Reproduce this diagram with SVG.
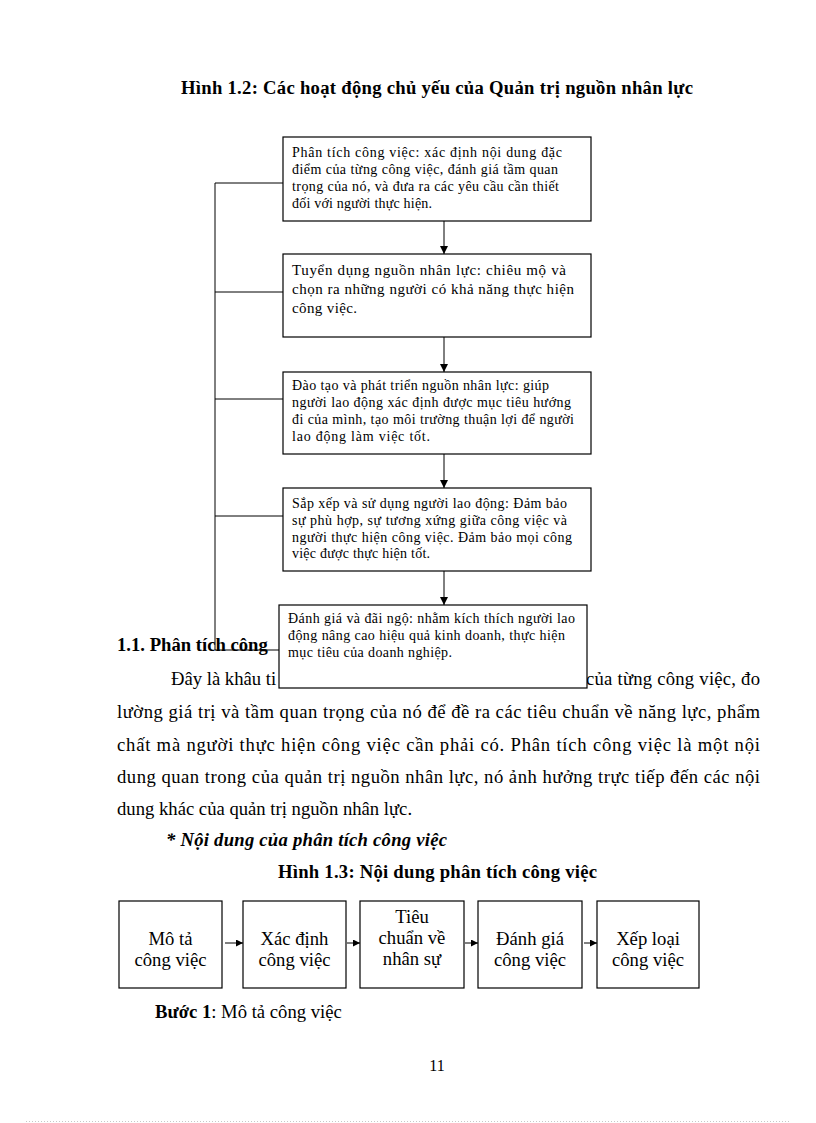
<svg xmlns="http://www.w3.org/2000/svg" width="816" height="1123" viewBox="0 0 816 1123">
<style>
text{font-family:"Liberation Serif","Times New Roman",serif;fill:#000}
.body{font-size:18.67px}
.b{font-weight:bold}
.bi{font-weight:bold;font-style:italic}
.sm{font-size:14px}
.md{font-size:15px}
.box{fill:#fff;stroke:#000;stroke-width:1.2}
.ln{fill:none;stroke:#000;stroke-width:1}
</style>
<defs>
<marker id="ah" viewBox="0 0 8 8" refX="8" refY="4" markerWidth="8" markerHeight="8" markerUnits="userSpaceOnUse" orient="auto">
<path d="M0,0 L8,4 L0,8 z" fill="#000"/>
</marker>
<marker id="ah2" viewBox="0 0 8 8" refX="8" refY="4" markerWidth="7" markerHeight="7" markerUnits="userSpaceOnUse" orient="auto">
<path d="M0,0 L8,4 L0,8 z" fill="#000"/>
</marker>
</defs>
<rect width="816" height="1123" fill="#fff"/>

<g id="page-text">
<text class="body b" x="181" y="94" textLength="512" lengthAdjust="spacing">Hình 1.2: Các hoạt động chủ yếu của Quản trị nguồn nhân lực</text>
<text class="body b" x="117" y="651">1.1. Phân tích công</text>
<text class="body" x="171" y="685">Đây là khâu ti</text>
<text class="body" x="586" y="685" textLength="174" lengthAdjust="spacing">của từng công việc, đo</text>
<text class="body" x="117" y="718" textLength="643" lengthAdjust="spacing">lường giá trị và tầm quan trọng của nó để đề ra các tiêu chuẩn về năng lực, phẩm</text>
<text class="body" x="117" y="751" textLength="643" lengthAdjust="spacing">chất mà người thực hiện công việc cần phải có. Phân tích công việc là một nội</text>
<text class="body" x="117" y="783" textLength="643" lengthAdjust="spacing">dung quan trong của quản trị nguồn nhân lực, nó ảnh hưởng trực tiếp đến các nội</text>
<text class="body" x="117" y="815">dung khác của quản trị nguồn nhân lực.</text>
<text class="body bi" x="166" y="846" textLength="281" lengthAdjust="spacing">* Nội dung của phân tích công việc</text>
<text class="body b" x="278" y="878" textLength="319" lengthAdjust="spacing">Hình 1.3: Nội dung phân tích công việc</text>
<text class="body" x="155" y="1018"><tspan class="b">Bước 1</tspan>: Mô tả công việc</text>
<text x="437" y="1071" font-size="16" text-anchor="middle">11</text>
<line x1="26" y1="1121.5" x2="791" y2="1121.5" stroke="#c8c8c8" stroke-width="1" stroke-dasharray="1,2"/>
</g>

<g id="connectors">
<path class="ln" d="M215,183 V650"/>
<path class="ln" d="M215,183 H283"/>
<path class="ln" d="M215,292 H283"/>
<path class="ln" d="M215,399 H283"/>
<path class="ln" d="M215,516 H283"/>
<path class="ln" d="M215,650 H279"/>
<path class="ln" d="M444,221 V254" marker-end="url(#ah)"/>
<path class="ln" d="M444,337 V372" marker-end="url(#ah)"/>
<path class="ln" d="M444,454 V488" marker-end="url(#ah)"/>
<path class="ln" d="M444,571 V605" marker-end="url(#ah)"/>
<path class="ln" d="M225,943 H243" marker-end="url(#ah2)"/>
<path class="ln" d="M347,943 H360" marker-end="url(#ah2)"/>
<path class="ln" d="M465,943 H478" marker-end="url(#ah2)"/>
<path class="ln" d="M584,943 H597" marker-end="url(#ah2)"/>
</g>

<g id="node-phan-tich">
<rect class="box" x="283" y="137" width="308" height="84"/>
<text class="sm" x="292" y="157" textLength="270" lengthAdjust="spacing">Phân tích công việc: xác định nội dung đặc</text>
<text class="sm" x="292" y="174" textLength="266" lengthAdjust="spacing">điểm của từng công việc, đánh giá tầm quan</text>
<text class="sm" x="292" y="191" textLength="267" lengthAdjust="spacing">trọng của nó, và đưa ra các yêu cầu cần thiết</text>
<text class="sm" x="292" y="208" textLength="140" lengthAdjust="spacing">đối với người thực hiện.</text>
</g>

<g id="node-tuyen-dung">
<rect class="box" x="283" y="254" width="308" height="83"/>
<text class="md" x="292" y="275" textLength="274" lengthAdjust="spacing">Tuyển dụng nguồn nhân lực: chiêu mộ và</text>
<text class="md" x="292" y="294" textLength="282" lengthAdjust="spacing">chọn ra những người có khả năng thực hiện</text>
<text class="md" x="292" y="313" textLength="65" lengthAdjust="spacing">công việc.</text>
</g>

<g id="node-dao-tao">
<rect class="box" x="283" y="372" width="308" height="82"/>
<text class="sm" x="292" y="390" textLength="257" lengthAdjust="spacing">Đào tạo và phát triển nguồn nhân lực:  giúp</text>
<text class="sm" x="292" y="407" textLength="279" lengthAdjust="spacing">người lao động xác định được mục tiêu hướng</text>
<text class="sm" x="292" y="424" textLength="282" lengthAdjust="spacing">đi của mình,  tạo môi trường thuận lợi để người</text>
<text class="sm" x="292" y="441" textLength="138" lengthAdjust="spacing">lao động làm việc tốt.</text>
</g>

<g id="node-sap-xep">
<rect class="box" x="283" y="488" width="308" height="83"/>
<text class="sm" x="292" y="508" textLength="275" lengthAdjust="spacing">Sắp xếp và sử dụng người lao động: Đảm bảo</text>
<text class="sm" x="292" y="525" textLength="275" lengthAdjust="spacing">sự phù hợp, sự tương xứng giữa công việc và</text>
<text class="sm" x="292" y="542" textLength="280" lengthAdjust="spacing">người thực hiện công việc. Đảm bảo mọi công</text>
<text class="sm" x="292" y="558" textLength="138" lengthAdjust="spacing">việc được thực hiện tốt.</text>
</g>

<g id="node-danh-gia-dai-ngo">
<rect class="box" x="279" y="605" width="308" height="83"/>
<text class="sm" x="288" y="623" textLength="287" lengthAdjust="spacing">Đánh giá và đãi ngộ: nhằm kích thích người lao</text>
<text class="sm" x="288" y="640" textLength="277" lengthAdjust="spacing">động nâng cao hiệu quả kinh doanh, thực hiện</text>
<text class="sm" x="288" y="657" textLength="164" lengthAdjust="spacing">mục tiêu của doanh nghiệp.</text>
</g>

<g id="node-mo-ta">
<rect class="box" x="119" y="901" width="103" height="87"/>
<text class="body" x="170.5" y="945" text-anchor="middle">Mô tả</text>
<text class="body" x="170.5" y="966" text-anchor="middle">công việc</text>
</g>
<g id="node-xac-dinh">
<rect class="box" x="243" y="901" width="103" height="87"/>
<text class="body" x="294.5" y="945" text-anchor="middle">Xác định</text>
<text class="body" x="294.5" y="966" text-anchor="middle">công việc</text>
</g>
<g id="node-tieu-chuan">
<rect class="box" x="360" y="901" width="104" height="87"/>
<text class="body" x="412" y="923" text-anchor="middle">Tiêu</text>
<text class="body" x="412" y="944" text-anchor="middle">chuẩn về</text>
<text class="body" x="412" y="965" text-anchor="middle">nhân sự</text>
</g>
<g id="node-danh-gia">
<rect class="box" x="478" y="901" width="104" height="87"/>
<text class="body" x="530" y="945" text-anchor="middle">Đánh giá</text>
<text class="body" x="530" y="966" text-anchor="middle">công việc</text>
</g>
<g id="node-xep-loai">
<rect class="box" x="597" y="901" width="102" height="87"/>
<text class="body" x="648" y="945" text-anchor="middle">Xếp loại</text>
<text class="body" x="648" y="966" text-anchor="middle">công việc</text>
</g>
</svg>
